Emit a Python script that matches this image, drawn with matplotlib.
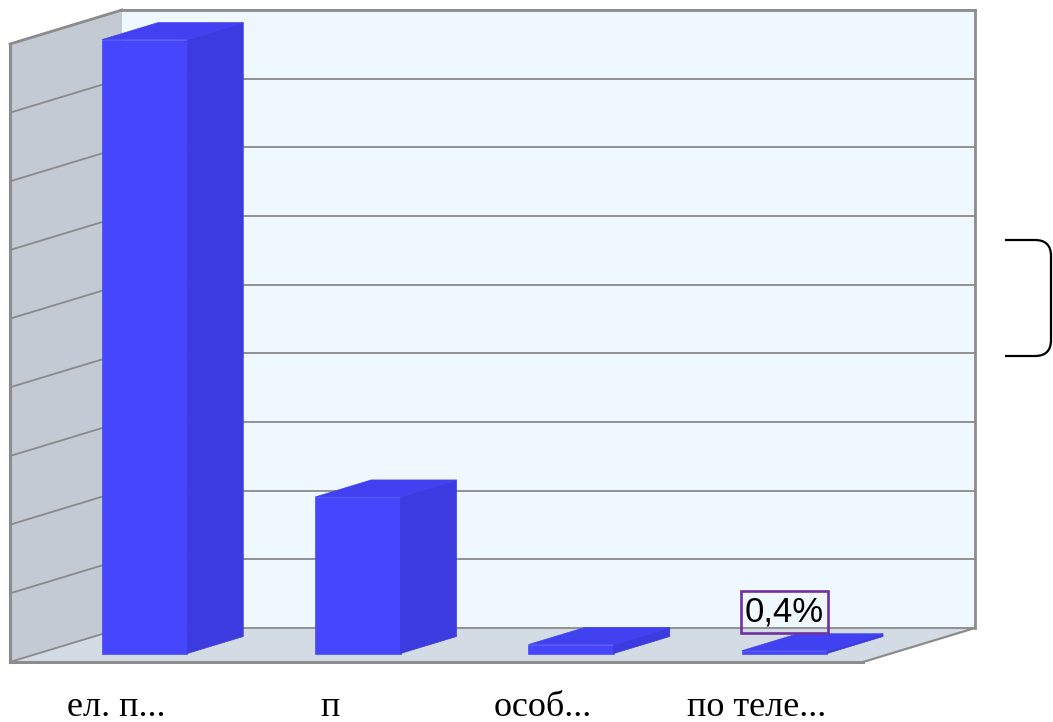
import matplotlib
matplotlib.use("Agg")
import matplotlib.pyplot as plt
from matplotlib.patches import Polygon, PathPatch
from matplotlib.path import Path

# ---- data ----
categories = ["ел. п...", "п", "особ...", "по теле..."]
values = [89.4, 22.8, 1.3, 0.4]          # percent
shown_labels = [None, None, None, "0,4%"]
y_max = 90
y_step = 10

# ---- geometry (pseudo-3D) ----
W, H = 1053, 722
cat_px = 213.25                 # pixels per category
val_px = 618 / y_max            # pixels per percent
x0_px, y0_px = 10, 662          # front-left floor corner in pixels
DX = 112 / cat_px               # depth offset in category units
DY = 34 / val_px                # depth offset in value units
bar_w = 0.4
d_front, d_back = 0.25, 0.75
n = len(categories)

fig = plt.figure(figsize=(W / 100, H / 100), dpi=100)
ax = fig.add_axes([0, 0, 1, 1])
ax.set_xlim(-x0_px / cat_px, (W - x0_px) / cat_px)
ax.set_ylim(-(H - y0_px) / val_px, y0_px / val_px)
ax.axis("off")

edge = "#8c8c8c"
grid_c = "#8a8a8a"

# walls
left_wall = Polygon([(0, 0), (0, y_max), (DX, y_max + DY), (DX, DY)], closed=True,
                    facecolor="#c4cad3", edgecolor="none", zorder=1)
back_wall = Polygon([(DX, DY), (DX, y_max + DY), (n + DX, y_max + DY), (n + DX, DY)], closed=True,
                    facecolor="#f0f8ff", edgecolor="none", zorder=1)
floor = Polygon([(0, 0), (n, 0), (n + DX, DY), (DX, DY)], closed=True,
                facecolor="#d3dce4", edgecolor="none", zorder=1)
for p in (left_wall, back_wall, floor):
    ax.add_patch(p)

# gridlines
for v in range(0, y_max + 1, y_step):
    ax.plot([DX, n + DX], [v + DY, v + DY], color=grid_c, lw=1.3, zorder=2)
    ax.plot([0, DX], [v, v + DY], color=grid_c, lw=1.3, zorder=2)

# edges
ax.plot([0, 0], [0, y_max], color=edge, lw=2.2, zorder=3)
ax.plot([0, DX], [y_max, y_max + DY], color=edge, lw=2.0, zorder=3)
ax.plot([DX, n + DX], [y_max + DY, y_max + DY], color=edge, lw=2.0, zorder=3)
ax.plot([n + DX, n + DX], [DY, y_max + DY], color=edge, lw=2.0, zorder=3)
ax.plot([0, n], [0, 0], color=edge, lw=2.2, zorder=3)
ax.plot([n, n + DX], [0, DY], color=edge, lw=1.6, zorder=3)

# bars
c_front, c_side, c_top = "#4646fd", "#3b3be0", "#4141f2"
for i, v in enumerate(values):
    c = i + 0.5
    xl = c - bar_w / 2 + d_front * DX
    xr = c + bar_w / 2 + d_front * DX
    yb = d_front * DY
    sx = (d_back - d_front) * DX
    sy = (d_back - d_front) * DY
    front = Polygon([(xl, yb), (xr, yb), (xr, yb + v), (xl, yb + v)],
                    facecolor=c_front, edgecolor=c_front, lw=0.5, zorder=5)
    side = Polygon([(xr, yb), (xr + sx, yb + sy), (xr + sx, yb + sy + v), (xr, yb + v)],
                   facecolor=c_side, edgecolor=c_side, lw=0.5, zorder=5)
    top = Polygon([(xl, yb + v), (xr, yb + v), (xr + sx, yb + sy + v), (xl + sx, yb + sy + v)],
                  facecolor=c_top, edgecolor=c_top, lw=0.5, zorder=5)
    for p in (front, side, top):
        ax.add_patch(p)
    if shown_labels[i]:
        ax.text((xl + xr) / 2, v + d_back * DY + 0.75, shown_labels[i],
                ha="center", va="bottom", fontsize=25, family="Liberation Sans",
                color="black", zorder=7,
                bbox=dict(boxstyle="square,pad=0.12", facecolor="none",
                          edgecolor="#7030a0", linewidth=1.9))

# category labels
for i, lab in enumerate(categories):
    ax.text(i + 0.5, -(716 - y0_px) / val_px, lab, ha="center", va="baseline",
            fontsize=26, family="Liberation Serif", color="black")

# bracket decoration (pixel coordinates)
ov = fig.add_axes([0, 0, 1, 1], facecolor="none")
ov.set_xlim(0, W)
ov.set_ylim(H, 0)
ov.axis("off")
verts = [(1005, 240), (1035, 240), (1051, 240), (1051, 256), (1051, 340),
         (1051, 356), (1035, 356), (1005, 356)]
codes = [Path.MOVETO, Path.LINETO, Path.CURVE3, Path.CURVE3, Path.LINETO,
         Path.CURVE3, Path.CURVE3, Path.LINETO]
ov.add_patch(PathPatch(Path(verts, codes), facecolor="none", edgecolor="black", lw=1.6))

fig.savefig("out.png", dpi=100)
